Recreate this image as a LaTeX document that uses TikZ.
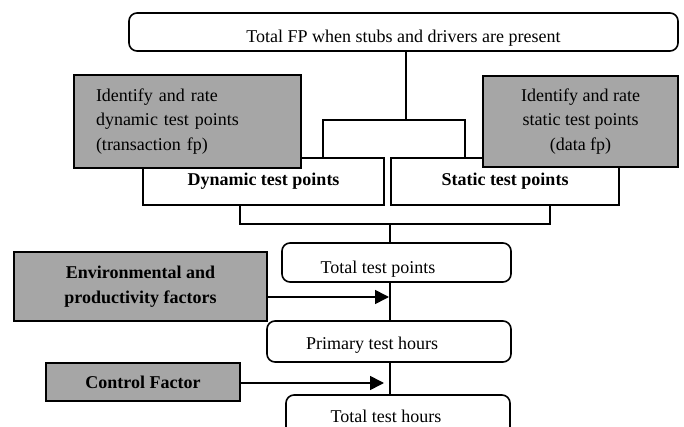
\documentclass[tikz,border=0pt]{standalone}
\usepackage{fontspec}
\setmainfont{Liberation Serif}
\usetikzlibrary{arrows.meta}

\begin{document}
\begin{tikzpicture}[x=1pt, y=-1pt,
 every node/.style={font=\fontsize{18}{24.5}\selectfont, inner sep=0pt},
 bold/.style={font=\fontsize{18}{24.5}\selectfont\bfseries},
 whitebox/.style={draw, line width=1.6pt, fill=white},
 roundbox/.style={draw, line width=1.6pt, rounded corners=8pt, fill=white},
 graybox/.style={draw, line width=1.6pt, fill=black!35},
 link/.style={line width=1.2pt},
 feed/.style={line width=1.6pt, -{Triangle[length=14pt,width=14pt]}}]
\useasboundingbox (0,0) rectangle (684,427);

% boxes of the upper part
\node[roundbox, minimum width=549pt, minimum height=38pt,
 label={[yshift=-6pt]center:Total FP when stubs and drivers are present}] (fp) at (403.5,32) {};
\node[whitebox, bold, minimum width=241pt, minimum height=47pt] (dyn) at (263.5,181.5) {Dynamic test points};
\node[whitebox, bold, minimum width=228pt, minimum height=47pt] (stat) at (505,181.5) {Static test points};

% boxes of the lower part
\node[roundbox, minimum width=229pt, minimum height=39pt,
 label={[xshift=-18.5pt, yshift=-6.5pt]center:Total test points}] (tp) at (396.5,262.5) {};
\node[roundbox, minimum width=244pt, minimum height=41pt,
 label={[xshift=-17pt, yshift=-3.5pt]center:Primary test hours}] (pth) at (389,341.5) {};
\node[roundbox, minimum width=224pt, minimum height=50pt,
 label={[xshift=-12pt, yshift=4pt]center:Total test hours}] (tth) at (398,420) {};

% connectors
\coordinate (t1) at (406,120);
\coordinate (b1) at (323,120);
\coordinate (b2) at (465,120);
\coordinate (c1) at (240,224);
\coordinate (c2) at (550,224);
\coordinate (c3) at (390,224);
\draw[link] (fp.south -| t1) -- (t1);
\draw[link] (dyn.north -| b1) -- (b1) -- (b2) -- (stat.north -| b2);
\draw[link] (dyn.south -| c1) -- (c1) -- (c2) -- (stat.south -| c2);
\draw[link] (c3) -- (tp.north -| c3);
\draw[link] (tp.south -| c3) -- (pth.north -| c3);
\draw[link] (pth.south -| c3) -- (tth.north -| c3);

% gray input boxes
\node[graybox, minimum width=227pt, minimum height=93pt, text width=183pt, inner xsep=22pt, align=left] (rateL) at (187.5,121.5)
 {Identify and rate\\ dynamic test points\\ (transaction fp)};
\node[graybox, minimum width=195pt, minimum height=91pt, align=center] (rateR) at (580.5,121.5)
 {Identify and rate\\ static test points\\ (data fp)};
\node[graybox, bold, minimum width=253pt, minimum height=69pt, align=center] (env) at (140.5,286.5)
 {Environmental and\\ productivity factors};
\node[graybox, bold, minimum width=194pt, minimum height=38pt] (ctrl) at (143,382) {Control Factor};

\coordinate (e1) at (389,297);
\coordinate (k1) at (384,383);
\draw[feed] (env.east |- e1) -- (e1);
\draw[feed] (ctrl.east |- k1) -- (k1);
\end{tikzpicture}
\end{document}
